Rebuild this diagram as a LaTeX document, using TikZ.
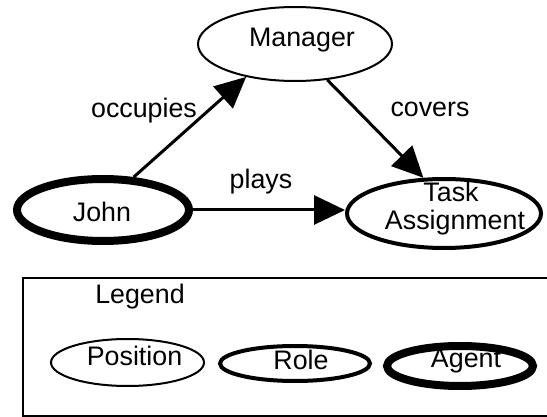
\documentclass[tikz,border=0pt]{standalone}
\usepackage{fontspec}
\setmainfont{Liberation Sans}
\usetikzlibrary{shapes.geometric,arrows.meta}
\begin{document}
\begin{tikzpicture}[x=1pt,y=-1pt,
  ell/.style={ellipse, draw=black, fill=white, inner sep=0pt},
  thinell/.style={ell, line width=2pt},
  medell/.style={ell, line width=4pt},
  thickell/.style={ell, line width=8pt},
  lbl/.style={anchor=base, inner sep=0pt, font=\fontsize{26.8}{28}\selectfont},
  arr/.style={line width=3pt, -{Triangle[length=31pt,width=29pt]}},
  boxline/.style={line width=2pt}]
\useasboundingbox (0,0) rectangle (547,417);
% main graph
\node[thinell, minimum width=194pt, minimum height=74pt] (manager) at (295,44) {};
\node[thickell, minimum width=172pt, minimum height=62pt] (john) at (103,210) {};
\node[medell, minimum width=194pt, minimum height=69pt] (task) at (444,213.5) {};
\node[lbl] (managert) at (302,47) {Manager};
\node[lbl] (johnt) at (102,222) {John};
\node[lbl] (taskt1) at (451,202) {Task};
\node[lbl] (taskt2) at (455,230) {Assignment};
% connectors
\draw[arr] (john.47) -- (manager.214);
\draw[arr] (manager.312) -- (task.120);
\draw[arr] (john.east) -- (john.east -| task.west);
\node[lbl] (occ) at (144,118) {occupies};
\node[lbl] (cov) at (430,117) {covers};
\node[lbl] (pla) at (261,189) {plays};
% legend
\draw[boxline] (548,278) -- (23,278) -- (23,415.5) -- (548,415.5);
\node[lbl] (legt) at (140,303) {Legend};
\node[thinell, minimum width=153pt, minimum height=47pt] (position) at (127.5,362.5) {};
\node[medell, minimum width=150pt, minimum height=35pt] (role) at (295,363.5) {};
\node[thickell, minimum width=146pt, minimum height=40pt] (agent) at (460,366) {};
\node[lbl] (post) at (134.5,365) {Position};
\node[lbl] (rolet) at (301,370) {Role};
\node[lbl] (agentt) at (466,367) {Agent};
\end{tikzpicture}
\end{document}
